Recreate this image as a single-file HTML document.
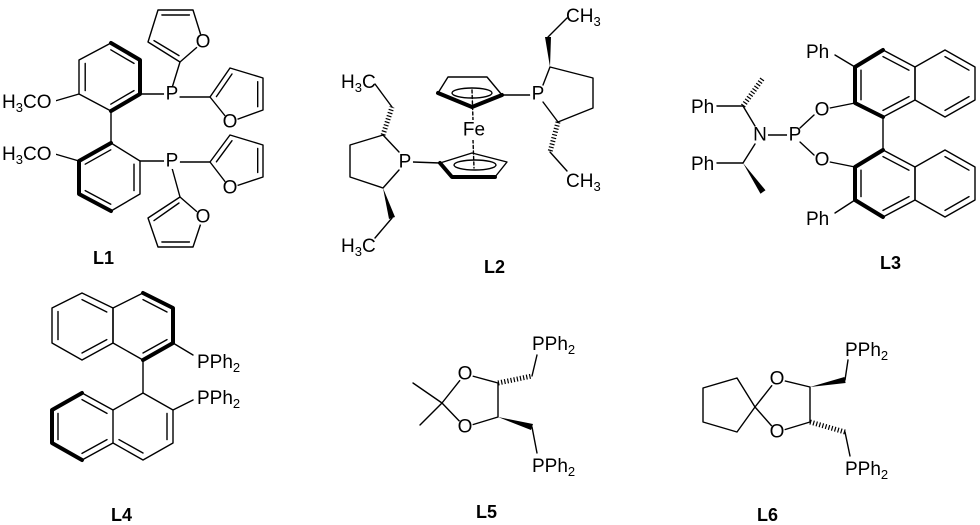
<!DOCTYPE html>
<html><head><meta charset="utf-8"><style>
html,body{margin:0;padding:0;background:#fff;}
svg{display:block}
text{font-family:"Liberation Sans",Arial,sans-serif;font-size:19px;fill:#000;}
.c{text-anchor:middle;dominant-baseline:central}
.b{font-weight:bold;font-size:18px}
</style></head><body>
<svg width="980" height="525" viewBox="0 0 980 525" xmlns="http://www.w3.org/2000/svg">
<g stroke="#000" stroke-width="1.4" fill="none" stroke-linecap="round" stroke-linejoin="round">
<!-- L1 upper ring -->
<polyline points="140,60 111,43 79,60 79,94 111,111"/>
<polyline points="111,43 140,60 140,94 111,111" stroke-width="4"/>
<line x1="79" y1="94" x2="55" y2="101"/>
<line x1="140" y1="94" x2="172" y2="94"/>
<line x1="85.2" y1="63.4" x2="85.2" y2="90.6"/><line x1="110.8" y1="49.8" x2="134" y2="63.4"/><line x1="134" y1="90.6" x2="110.8" y2="104.2"/>
<line x1="111" y1="111" x2="111" y2="143"/>
<!-- L1 lower ring -->
<polyline points="111,143 140,161 140,194 111,211"/>
<polyline points="111,143 79,161 79,194 111,211" stroke-width="4"/>
<line x1="79" y1="161" x2="55" y2="154"/>
<line x1="140" y1="161" x2="172" y2="161"/>
<line x1="134" y1="164.2" x2="134" y2="190.6"/><line x1="85.2" y1="190.6" x2="110.8" y2="204.2"/><line x1="110.8" y1="149.8" x2="85.2" y2="164.2"/>
<!-- furans -->
<line x1="172" y1="88" x2="180" y2="62"/>
<polygon points="180,62 148,42 158,10 193,10 203,42"/>
<line x1="179" y1="55.6" x2="154" y2="40.6"/><line x1="161.9" y1="15" x2="189.4" y2="15"/>
<line x1="180" y1="97" x2="210" y2="97"/>
<polygon points="210,97 230,68 263,78 263,110 230,122"/>
<line x1="216.4" y1="96.6" x2="232" y2="74"/><line x1="257.7" y1="81.7" x2="257.7" y2="106.7"/>
<line x1="180" y1="162" x2="210" y2="162"/>
<polygon points="210,162 230,135 263,145 263,177 230,188"/>
<line x1="216.4" y1="161.8" x2="232" y2="140.7"/><line x1="257.7" y1="148.5" x2="257.7" y2="172.5"/>
<line x1="172" y1="168" x2="180" y2="197"/>
<polygon points="180,197 148,218 158,247 193,247 203,217"/>
<line x1="179" y1="203" x2="154" y2="220.6"/><line x1="161.9" y1="242" x2="189.4" y2="242"/>

<!-- L2 -->
<polygon points="448,77 487,77 502,95 472,107 438,93"/>
<polyline points="438,93 472,107 502,95" stroke-width="4"/>
<ellipse cx="472" cy="93" rx="20" ry="5"/>
<polygon points="440,163 472,153 507,162 495,177 452,177"/>
<polyline points="440,163 452,177 495,177" stroke-width="4"/>
<ellipse cx="475" cy="165" rx="21" ry="5"/>
<line x1="472" y1="90" x2="473" y2="120" stroke-dasharray="3 2.5"/>
<line x1="473" y1="140" x2="474" y2="168" stroke-dasharray="3 2.5"/>
<line x1="502" y1="95" x2="530" y2="95"/>
<polyline points="543,85 550,67 593,78 593,108 558,122 543,102"/>
<line x1="548" y1="37" x2="567" y2="18"/>
<line x1="558" y1="122" x2="550" y2="152" stroke-width="5" stroke-dasharray="1.2 2" stroke-linecap="butt"/>
<line x1="550" y1="152" x2="567" y2="171"/>
<line x1="413" y1="162" x2="440" y2="163"/>
<polyline points="399,152 383,135 350,145 350,177 383,188 399,170"/>
<line x1="383" y1="135" x2="392" y2="107" stroke-width="5" stroke-dasharray="1.2 2" stroke-linecap="butt"/>
<line x1="392" y1="107" x2="375" y2="84"/>
<line x1="392" y1="218" x2="375" y2="238"/>

<!-- L3 -->
<line x1="717" y1="106" x2="743" y2="106"/>
<line x1="743" y1="106" x2="763" y2="78" stroke-width="5" stroke-dasharray="1.2 2" stroke-linecap="butt"/>
<line x1="743" y1="106" x2="755" y2="126"/>
<line x1="717" y1="163" x2="743" y2="163"/>
<line x1="743" y1="163" x2="755" y2="144"/>
<line x1="768" y1="135" x2="788" y2="135"/>
<line x1="800" y1="128" x2="814" y2="115"/>
<line x1="800" y1="142" x2="814" y2="155"/>
<line x1="830" y1="108" x2="855" y2="103"/>
<line x1="830" y1="162" x2="855" y2="167"/>
<polyline points="883,50 915,67 915,100 883,117"/>
<polyline points="883,117 855,103 855,67 883,50" stroke-width="4"/>
<polygon points="915,67 945,50 975,67 975,100 945,117 915,100"/>
<line x1="861" y1="70.2" x2="861" y2="99.8"/><line x1="883" y1="56.6" x2="909" y2="70.2"/><line x1="909" y1="96.6" x2="883" y2="110.4"/>
<line x1="945" y1="56.6" x2="969" y2="70.2"/><line x1="969" y1="96.6" x2="945" y2="110.4"/>
<line x1="835" y1="55" x2="855" y2="67"/>
<line x1="883" y1="117" x2="883" y2="150"/>
<polyline points="883,150 915,167 915,200 883,217"/>
<polyline points="883,150 855,167 855,200 883,217" stroke-width="4"/>
<polygon points="915,167 945,150 975,167 975,200 945,217 915,200"/>
<line x1="861" y1="170.2" x2="861" y2="196.6"/><line x1="883" y1="156.6" x2="909" y2="170.2"/><line x1="909" y1="196.6" x2="883" y2="210.4"/>
<line x1="945" y1="156.6" x2="969" y2="170.2"/><line x1="969" y1="196.6" x2="945" y2="210.4"/>
<line x1="835" y1="213" x2="855" y2="200"/>

<!-- L4 -->
<polyline points="143,360 113,343 113,308 143,293"/>
<polyline points="143,293 173,308 173,343 143,360" stroke-width="4"/>
<polygon points="113,308 82,293 52,308 52,343 82,360 113,343"/>
<line x1="143" y1="299.6" x2="167" y2="312"/><line x1="167" y1="339.6" x2="143" y2="353"/>
<line x1="58" y1="311.6" x2="58" y2="339.6"/><line x1="82" y1="299.6" x2="106.8" y2="312"/><line x1="82" y1="353" x2="106.8" y2="339.6"/>
<line x1="173" y1="343" x2="193" y2="355"/>
<line x1="143" y1="360" x2="143" y2="393"/>
<polygon points="143,393 173,410 173,443 143,460 113,443 113,410"/>
<polyline points="113,410 82,393"/><polyline points="82,460 113,443"/>
<polyline points="82,393 52,410 52,443 82,460" stroke-width="4"/>
<line x1="167" y1="413.4" x2="167" y2="439.6"/>
<line x1="143" y1="453" x2="167" y2="439.6" stroke="none"/>
<line x1="143" y1="453" x2="119" y2="439.6"/>
<line x1="58" y1="413.4" x2="58" y2="439.6"/><line x1="82" y1="399.6" x2="107" y2="413.4"/><line x1="82" y1="453.4" x2="107" y2="439.6"/>
<line x1="173" y1="410" x2="193" y2="400"/>

<!-- L5 -->
<polygon points="442,403 465,374 498,383 498,417 465,427"/>
<line x1="442" y1="403" x2="413" y2="383"/>
<line x1="442" y1="403" x2="420" y2="425"/>
<line x1="498" y1="383" x2="532" y2="376" stroke-width="5" stroke-dasharray="1.2 2" stroke-linecap="butt"/>
<line x1="532" y1="376" x2="537" y2="355"/>
<line x1="532" y1="427" x2="537" y2="453"/>

<!-- L6 -->
<polygon points="755,407 737,378 703,388 703,422 737,432"/>
<polygon points="755,407 777,379 810,387 810,422 777,432"/>
<line x1="845" y1="380" x2="848" y2="360"/>
<line x1="810" y1="422" x2="845" y2="432" stroke-width="5" stroke-dasharray="1.2 2" stroke-linecap="butt"/>
<line x1="845" y1="432" x2="850" y2="456"/>
</g>
<g fill="#000" stroke="none">
<polygon points="550,67 545,37 551,37"/>
<polygon points="383,188 389,219 395,217"/>
<polygon points="743,163 765.5,190.3 760.5,193.7"/>
<polygon points="498,417 531,430 533,424"/>
<polygon points="810,387 845.6,383 844.4,377"/>
</g>
<!-- white masks behind heteroatom labels -->
<g fill="#fff" stroke="none">
<rect x="0" y="90" width="56" height="24"/>
<rect x="0" y="142" width="56" height="24"/>
<circle cx="172" cy="94" r="8"/><circle cx="172" cy="161" r="8"/>
<circle cx="203" cy="42" r="8"/><circle cx="230" cy="122" r="8"/>
<circle cx="230" cy="188" r="8"/><circle cx="203" cy="217" r="8"/>
<rect x="462" y="120" width="24" height="20"/>
<circle cx="538" cy="94" r="8"/><circle cx="405" cy="162" r="8"/>
<circle cx="760" cy="135" r="8"/><circle cx="795" cy="135" r="8"/>
<circle cx="822" cy="110" r="8"/><circle cx="822" cy="160" r="8"/>
<circle cx="465" cy="374" r="8"/><circle cx="465" cy="427" r="8"/>
<circle cx="777" cy="379" r="8"/><circle cx="777" cy="432" r="8"/>
</g>
<g>
<text x="2" y="108">H<tspan font-size="13" dy="4">3</tspan><tspan dy="-4">CO</tspan></text>
<text x="2" y="160">H<tspan font-size="13" dy="4">3</tspan><tspan dy="-4">CO</tspan></text>
<text class="c" x="172" y="94">P</text>
<text class="c" x="172" y="161">P</text>
<text class="c" x="203" y="42">O</text>
<text class="c" x="230" y="122">O</text>
<text class="c" x="230" y="188">O</text>
<text class="c" x="203" y="217">O</text>
<text class="b" x="93" y="264">L1</text>

<text class="c" x="474" y="130">Fe</text>
<text class="c" x="538" y="94">P</text>
<text class="c" x="405" y="162">P</text>
<text x="566" y="22">CH<tspan font-size="13" dy="4">3</tspan></text>
<text x="566" y="187">CH<tspan font-size="13" dy="4">3</tspan></text>
<text x="341" y="88">H<tspan font-size="13" dy="4">3</tspan><tspan dy="-4">C</tspan></text>
<text x="341" y="252">H<tspan font-size="13" dy="4">3</tspan><tspan dy="-4">C</tspan></text>
<text class="b" x="484" y="273">L2</text>

<text x="691" y="113">Ph</text>
<text x="691" y="170">Ph</text>
<text class="c" x="760" y="135">N</text>
<text class="c" x="795" y="135">P</text>
<text class="c" x="822" y="110">O</text>
<text class="c" x="822" y="160">O</text>
<text x="806" y="58">Ph</text>
<text x="806" y="225">Ph</text>
<text class="b" x="880" y="269">L3</text>

<text x="197" y="368">PPh<tspan font-size="13" dy="4">2</tspan></text>
<text x="197" y="404">PPh<tspan font-size="13" dy="4">2</tspan></text>
<text class="b" x="111" y="521">L4</text>

<text class="c" x="465" y="374">O</text>
<text class="c" x="465" y="427">O</text>
<text x="532" y="350">PPh<tspan font-size="13" dy="4">2</tspan></text>
<text x="532" y="472">PPh<tspan font-size="13" dy="4">2</tspan></text>
<text class="b" x="476" y="518">L5</text>

<text class="c" x="777" y="379">O</text>
<text class="c" x="777" y="432">O</text>
<text x="845" y="356">PPh<tspan font-size="13" dy="4">2</tspan></text>
<text x="845" y="475">PPh<tspan font-size="13" dy="4">2</tspan></text>
<text class="b" x="757" y="521">L6</text>
</g>
</svg>
</body></html>
